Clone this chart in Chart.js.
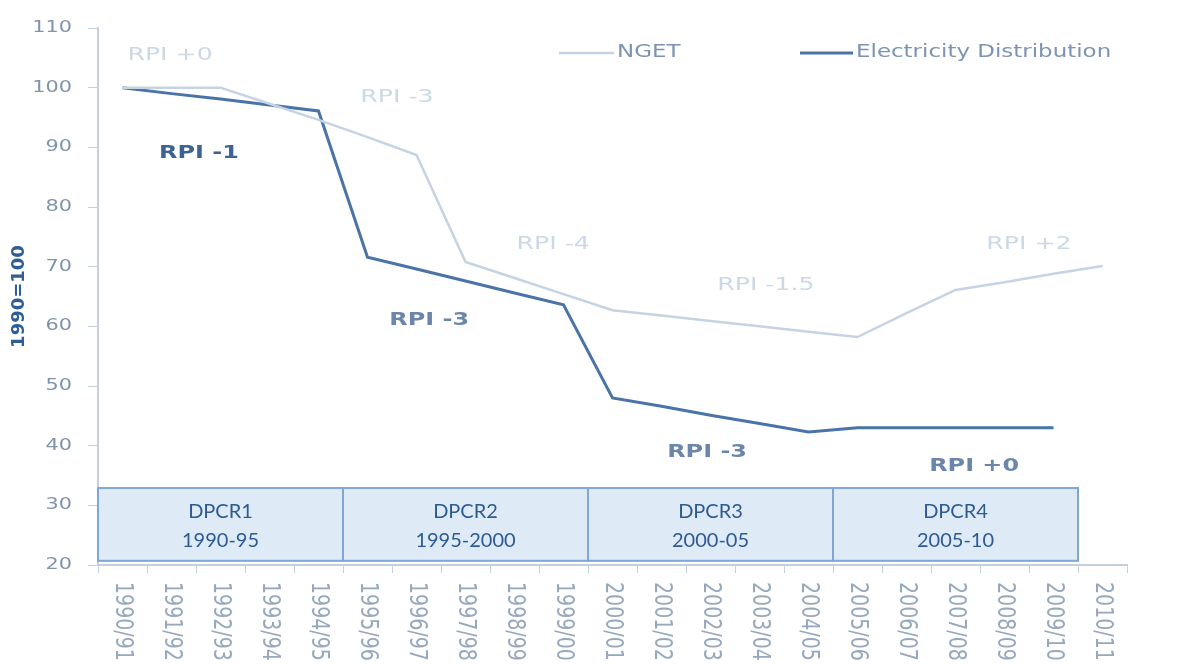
<!DOCTYPE html>
<html>
<head>
  <meta charset="UTF-8">
  <title>NGET vs Electricity Distribution</title>
  <script src="https://cdn.jsdelivr.net/npm/chart.js"></script>
  <style>
    body { margin: 0; background: #ffffff; }
    #wrap { width: 1181px; height: 664px; }
  </style>
</head>
<body>
  <div id="wrap"><canvas id="chart" width="1181" height="664"></canvas></div>

  <script>
    const years = ['1990/91', '1991/92', '1992/93', '1993/94', '1994/95', '1995/96', '1996/97',
      '1997/98', '1998/99', '1999/00', '2000/01', '2001/02', '2002/03', '2003/04', '2004/05',
      '2005/06', '2006/07', '2007/08', '2008/09', '2009/10', '2010/11'];
    const nget = [100, 100, 100, 97.3, 94.6, 91.7, 88.7, 70.8, 68.1, 65.4, 62.7,
      61.8, 60.9, 60.0, 59.1, 58.2, 62.2, 66.1, 67.4, 68.8, 70.1];
    const electricityDist = [100, 99.0, 98.1, 97.1, 96.1, 71.6, 69.6, 67.6, 65.6, 63.6, 48.0,
      46.6, 45.1, 43.7, 42.3, 43.0, 43.0, 43.0, 43.0, 43.0, null];
    const yTicks = [20, 30, 40, 50, 60, 70, 80, 90, 100, 110];

    // price control periods: [first year index, last year index]
    const periods = ['DPCR1', 'DPCR2', 'DPCR3', 'DPCR4'];
    const periodYears = ['1990-95', '1995-2000', '2000-05', '2005-10'];
    const periodSpans = [[0, 4], [5, 9], [10, 14], [15, 19]];

    // text notes: [text, year index, value, style]
    const notes = [
      ['RPI +0', 0.97, 105.5, 'nget'],
      ['RPI -1', 1.56, 89, 'edBold'],
      ['RPI -3', 5.6, 98.3, 'nget'],
      ['RPI -3', 6.26, 61, 'ed'],
      ['RPI -4', 8.79, 73.8, 'nget'],
      ['RPI -1.5', 13.13, 66.9, 'nget'],
      ['RPI +2', 18.5, 73.8, 'nget'],
      ['RPI -3', 11.93, 38.8, 'ed'],
      ['RPI +0', 17.38, 36.6, 'ed']
    ];

    const NGET_COLOR = '#c6d3e2';
    const ED_COLOR = '#4a73a8';
    const AXIS_COLOR = '#c5d0dd';

    const noteStyles = {
      nget: { color: '#cdd8e5', font: '18px "DejaVu Sans"', sx: 1.4 },
      ed: { color: '#6b86aa', font: 'bold 18px "DejaVu Sans"', sx: 1.33 },
      edBold: { color: '#3d6294', font: 'bold 18px "DejaVu Sans"', sx: 1.33 }
    };

    // the source picture is a little wide, so text is drawn stretched sideways
    function wideText(ctx, text, x, y, sx, align) {
      ctx.save();
      ctx.translate(x, y);
      ctx.scale(sx, 1);
      ctx.textAlign = align;
      ctx.fillText(text, 0, 0);
      ctx.restore();
    }

    const extras = {
      id: 'extras',
      afterDraw(chart) {
        const ctx = chart.ctx;
        const x = chart.scales.x;
        const y = chart.scales.y;

        // y tick labels
        ctx.save();
        ctx.fillStyle = '#8193aa';
        ctx.font = '16px "DejaVu Sans"';
        ctx.textBaseline = 'middle';
        yTicks.forEach(v => wideText(ctx, String(v), 72, y.getPixelForValue(v), 1.3, 'right'));
        ctx.restore();

        // period boxes
        periodSpans.forEach((span, i) => {
          const left = x.getPixelForValue(span[0] - 0.5);
          const right = x.getPixelForValue(span[1] + 0.5);
          const top = y.getPixelForValue(32.9);
          const bottom = y.getPixelForValue(20.7);
          ctx.save();
          ctx.fillStyle = '#deebf7';
          ctx.fillRect(left, top, right - left, bottom - top);
          ctx.strokeStyle = '#7fa7d8';
          ctx.lineWidth = 2;
          ctx.strokeRect(left, top, right - left, bottom - top);
          ctx.fillStyle = '#2d5a93';
          ctx.font = '20px Lato';
          ctx.textAlign = 'center';
          ctx.textBaseline = 'middle';
          const cx = (left + right) / 2;
          const cy = (top + bottom) / 2;
          ctx.fillText(periods[i], cx, cy - 13);
          ctx.fillText(periodYears[i], cx, cy + 16);
          ctx.restore();
        });

        // rotated year labels
        ctx.save();
        ctx.fillStyle = '#97a8bd';
        ctx.font = '19px "DejaVu Sans"';
        ctx.textAlign = 'left';
        ctx.textBaseline = 'middle';
        years.forEach((label, i) => {
          ctx.save();
          ctx.translate(x.getPixelForValue(i), y.bottom + 17);
          ctx.scale(1.3, 1);
          ctx.rotate(Math.PI / 2);
          ctx.fillText(label, 0, 0);
          ctx.restore();
        });
        ctx.restore();

        // notes
        notes.forEach(([text, xi, val, style]) => {
          const st = noteStyles[style];
          ctx.save();
          ctx.fillStyle = st.color;
          ctx.font = st.font;
          ctx.textBaseline = 'middle';
          wideText(ctx, text, x.getPixelForValue(xi), y.getPixelForValue(val), st.sx, 'center');
          ctx.restore();
        });

        // legend
        const legendY = 53;
        const items = [
          { text: 'NGET', color: NGET_COLOR, width: 2.5, x0: 559, x1: 614 },
          { text: 'Electricity Distribution', color: ED_COLOR, width: 3, x0: 800, x1: 853 }
        ];
        ctx.save();
        ctx.font = '17px "DejaVu Sans"';
        ctx.textBaseline = 'middle';
        items.forEach(it => {
          ctx.strokeStyle = it.color;
          ctx.lineWidth = it.width;
          ctx.beginPath();
          ctx.moveTo(it.x0, legendY);
          ctx.lineTo(it.x1, legendY);
          ctx.stroke();
          ctx.fillStyle = '#7c93b3';
          wideText(ctx, it.text, it.x1 + 3, legendY, 1.35, 'left');
        });
        ctx.restore();
      }
    };

    new Chart(document.getElementById('chart'), {
      type: 'line',
      data: {
        labels: years,
        datasets: [
          {
            label: 'NGET',
            data: nget,
            borderColor: NGET_COLOR,
            borderWidth: 2.5,
            pointRadius: 0,
            tension: 0
          },
          {
            label: 'Electricity Distribution',
            data: electricityDist,
            borderColor: ED_COLOR,
            borderWidth: 3,
            pointRadius: 0,
            tension: 0
          }
        ]
      },
      options: {
        responsive: false,
        animation: false,
        layout: { padding: { top: 28, right: 54, left: 0, bottom: 0 } },
        plugins: {
          legend: { display: false },
          tooltip: { enabled: false }
        },
        scales: {
          x: {
            offset: true,
            grid: { offset: true, drawOnChartArea: false, drawTicks: true, tickLength: 8, color: AXIS_COLOR },
            border: { color: AXIS_COLOR, width: 2 },
            ticks: { display: false },
            afterFit(scale) { scale.height = 99; }
          },
          y: {
            min: 20,
            max: 110,
            afterBuildTicks(scale) { scale.ticks = yTicks.map(v => ({ value: v })); },
            grid: { drawOnChartArea: false, drawTicks: true, tickLength: 10, color: AXIS_COLOR },
            border: { color: AXIS_COLOR, width: 2 },
            ticks: { display: false },
            title: {
              display: true,
              text: '1990=100',
              color: '#2e5d97',
              font: { family: 'DejaVu Sans', size: 18, weight: 'bold' },
              padding: { top: 9, bottom: 0 }
            },
            afterFit(scale) { scale.width = 98; }
          }
        }
      },
      plugins: [extras]
    });
  </script>
</body>
</html>
